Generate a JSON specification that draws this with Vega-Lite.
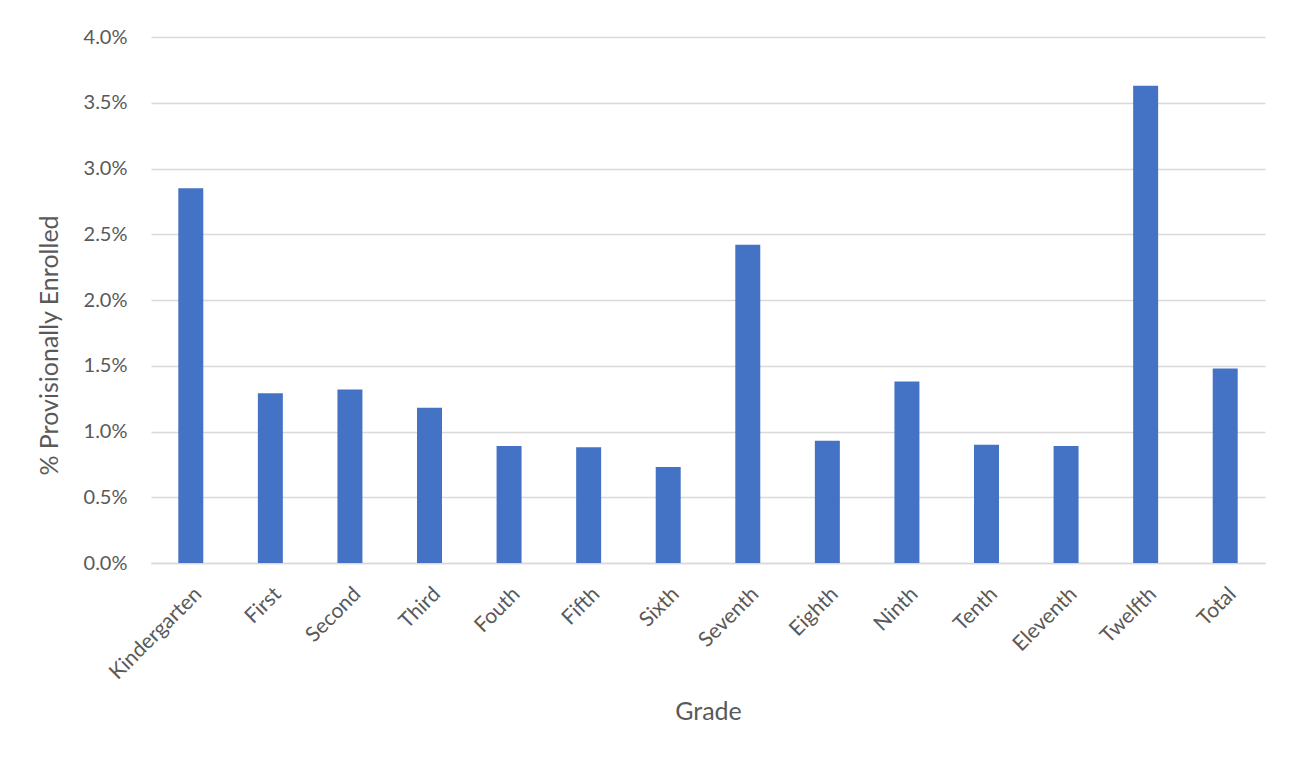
{
  "$schema": "https://vega.github.io/schema/vega-lite/v6.json",
  "autosize": "none",
  "width": 1114,
  "height": 526,
  "padding": {"left": 151, "top": 37, "right": 27, "bottom": 194},
  "background": "white",
  "config": {
    "font": "Lato",
    "view": {"stroke": null}
  },
  "data": {
    "values": [
      {"grade": "Kindergarten", "pct": 0.0285},
      {"grade": "First", "pct": 0.0129},
      {"grade": "Second", "pct": 0.0132},
      {"grade": "Third", "pct": 0.0118},
      {"grade": "Fouth", "pct": 0.0089},
      {"grade": "Fifth", "pct": 0.0088},
      {"grade": "Sixth", "pct": 0.0073},
      {"grade": "Seventh", "pct": 0.0242},
      {"grade": "Eighth", "pct": 0.0093},
      {"grade": "Ninth", "pct": 0.0138},
      {"grade": "Tenth", "pct": 0.0090},
      {"grade": "Eleventh", "pct": 0.0089},
      {"grade": "Twelfth", "pct": 0.0363},
      {"grade": "Total", "pct": 0.0148}
    ]
  },
  "mark": {"type": "bar", "color": "#4472C4"},
  "encoding": {
    "x": {
      "field": "grade",
      "type": "nominal",
      "sort": null,
      "scale": {"paddingInner": 0.686, "paddingOuter": 0.343},
      "axis": {
        "title": "Grade",
        "titleFontSize": 25,
        "titleFontWeight": "normal",
        "titleColor": "#595959",
        "titlePadding": 17,
        "labelAngle": -45,
        "labelFontSize": 21,
        "labelColor": "#595959",
        "labelPadding": 20,
        "ticks": false,
        "domainColor": "#D9D9D9",
        "domainWidth": 1.5
      }
    },
    "y": {
      "field": "pct",
      "type": "quantitative",
      "scale": {"domain": [0, 0.04]},
      "axis": {
        "title": "% Provisionally Enrolled",
        "titleFontSize": 25,
        "titleFontWeight": "normal",
        "titleColor": "#595959",
        "titlePadding": 21,
        "titleY": 308,
        "format": ".1%",
        "values": [0, 0.005, 0.01, 0.015, 0.02, 0.025, 0.03, 0.035, 0.04],
        "labelFontSize": 20,
        "labelColor": "#595959",
        "labelPadding": 24,
        "ticks": false,
        "domain": false,
        "gridColor": "#D9D9D9",
        "gridWidth": 1.5
      }
    }
  }
}
